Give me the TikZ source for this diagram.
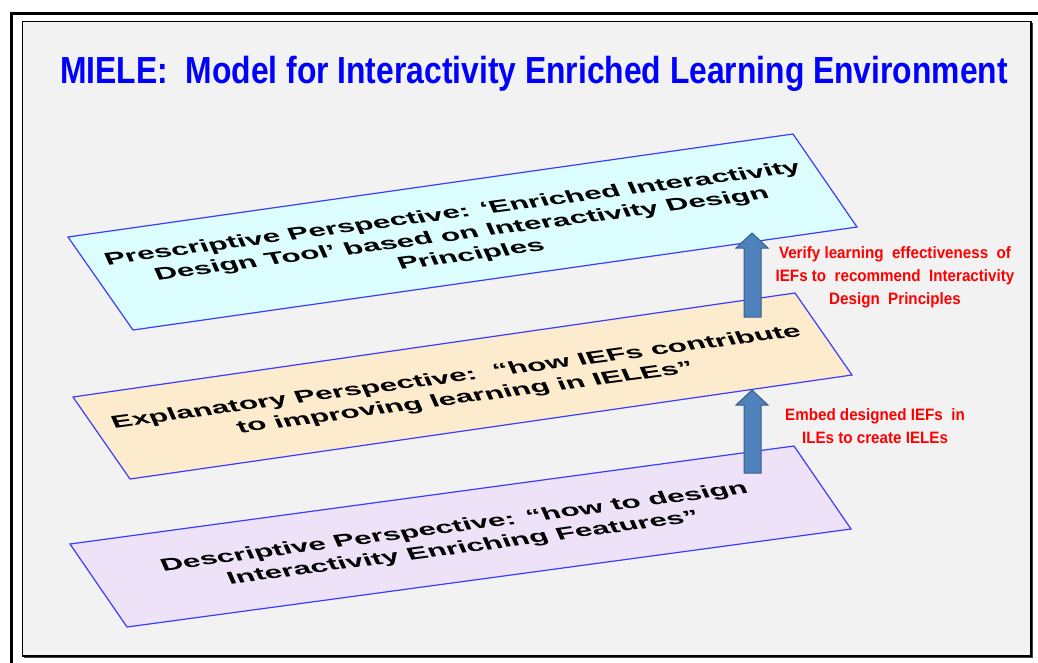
\documentclass[tikz,border=0pt]{standalone}
\usepackage{fontspec}
\setmainfont{Liberation Sans}
\definecolor{bg}{HTML}{F2F2F2}
\definecolor{planeA}{HTML}{DCFEFE}
\definecolor{planeB}{HTML}{FDEBCD}
\definecolor{planeC}{HTML}{EEE2F9}
\definecolor{edgeblue}{HTML}{3C3CFF}
\definecolor{arrowfill}{HTML}{4F81BD}
\definecolor{arrowline}{HTML}{385D8A}
\definecolor{titleblue}{HTML}{0000FF}
\definecolor{labelred}{HTML}{FF0000}
\begin{document}
\begin{tikzpicture}[x=1pt,y=-1pt,
  plane/.style={draw=edgeblue, line width=1.2pt, line join=miter},
  blockarrow/.style={fill=arrowfill, draw=arrowline, line width=1pt, line join=miter},
  planetext/.style={yscale=0.55, rotate=13.7, align=center, inner sep=0pt,
    font=\fontsize{31.4}{39}\selectfont\bfseries},
  redlabel/.style={xscale=0.92, align=center, inner sep=0pt, text=labelred,
    font=\fontsize{16.5}{23}\selectfont\bfseries},
  titlestyle/.style={xscale=0.844, inner sep=0pt, text=titleblue,
    font=\fontsize{37.7}{44}\selectfont\bfseries}
]
\useasboundingbox (0,0) rectangle (1038,662);
\clip (0,0) rectangle (1038,662);
\fill[white] (0,0) rectangle (1038,662);
% frames
\draw[line width=3pt] (11.3,13.5) rectangle (1050,675);
\draw[fill=bg, line width=1.6pt] (22.3,21.3) rectangle (1031,656);
\draw[line width=1.5pt, black!75] (1032.6,23) -- (1032.6,657.6) -- (24,657.6);

% title
\node[titlestyle, anchor=base west] (title) at (60,83)
  {MIELE:\ \ Model for Interactivity Enriched Learning Environment};

% planes
\coordinate (A1) at (68,237);  \coordinate (A2) at (793,134);
\coordinate (A3) at (857,227); \coordinate (A4) at (133,330);
\coordinate (B1) at (73,397);  \coordinate (B2) at (795,293);
\coordinate (B3) at (852,375); \coordinate (B4) at (130,479);
\coordinate (C1) at (70,544);  \coordinate (C2) at (794,446);
\coordinate (C3) at (851,529); \coordinate (C4) at (127,627);

\draw[plane, fill=planeA] (A1) -- (A2) -- (A3) -- (A4) -- cycle;
\draw[plane, fill=planeB] (B1) -- (B2) -- (B3) -- (B4) -- cycle;
\draw[plane, fill=planeC] (C1) -- (C2) -- (C3) -- (C4) -- cycle;

\node[planetext] (presc) at (462,235)
  {Prescriptive Perspective: ‘Enriched Interactivity\\
   Design Tool’ based on Interactivity Design\\
   Principles};
\node[planetext] (expl) at (461,388)
  {Explanatory Perspective:\ \ “how IEFs contribute\\
   to improving learning in IELEs”};
\node[planetext] (descr) at (459,538)
  {Descriptive Perspective: “how to design\\
   Interactivity Enriching Features”};

% block arrows
\draw[blockarrow] (752,233) -- (768,248) -- (761,248) -- (761,317)
  -- (744,317) -- (744,248) -- (736,248) -- cycle;
\draw[blockarrow] (752,390) -- (768,405) -- (761,405) -- (761,473)
  -- (744,473) -- (744,405) -- (736,405) -- cycle;

% red labels
\node[redlabel] (verify) at (895,277)
  {Verify learning\ \ effectiveness\ \ of\\
   IEFs to\ \ recommend\ \ Interactivity\\
   Design\ \ Principles};
\node[redlabel] (embed) at (875,426)
  {Embed designed IEFs\ \ in\\
   ILEs to create IELEs};
\end{tikzpicture}
\end{document}
